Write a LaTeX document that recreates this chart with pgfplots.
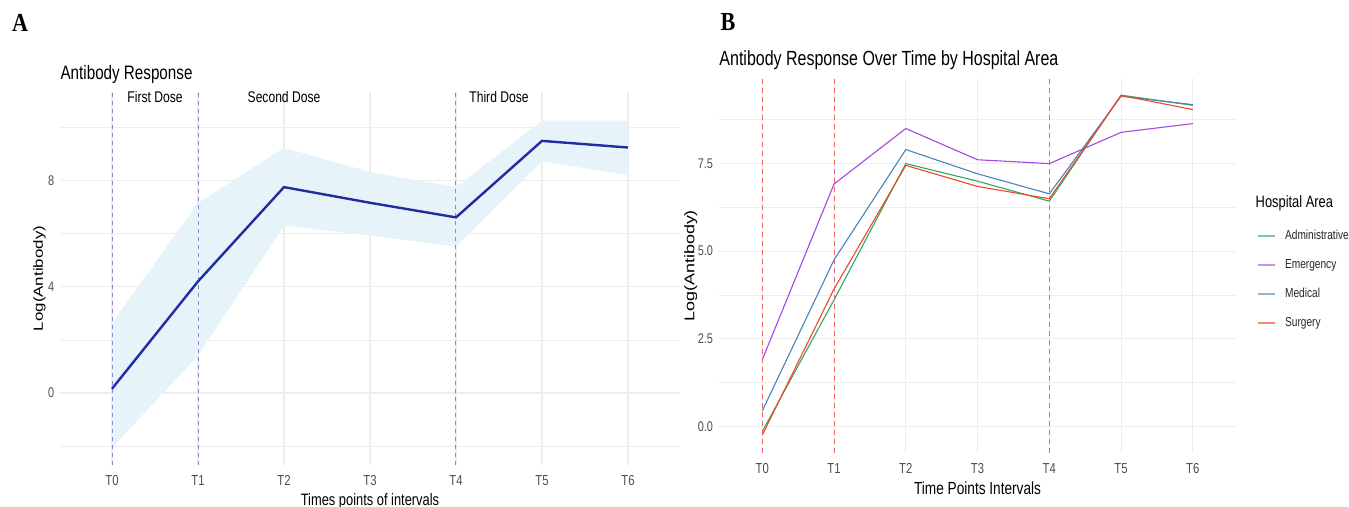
\documentclass[border=0pt]{standalone}
\usepackage{fontspec}
\setmainfont{Liberation Sans}[FakeStretch=0.78]
\newfontfamily\rotfont{Liberation Sans}[FakeStretch=1.28]
\newfontfamily\serifb{Liberation Serif}[FakeStretch=0.85]
\usepackage{pgfplots}
\pgfplotsset{compat=1.18}

\definecolor{gridc}{HTML}{EDEDED}
\definecolor{ticklab}{HTML}{4D4D4D}
\definecolor{lineA}{HTML}{1F2D9E}
\definecolor{ribbon}{HTML}{E6F3F9}
\definecolor{dashA}{HTML}{8583D8}
\definecolor{dashB}{HTML}{F46464}
\definecolor{admin}{HTML}{2EA862}
\definecolor{emerg}{HTML}{A447E3}
\definecolor{medic}{HTML}{4A82BA}
\definecolor{surg}{HTML}{F2452B}

\pgfplotsset{
  ggmin/.style={
    scale only axis,
    axis line style={draw=none},
    tick style={draw=none},
    major tick length=0pt, minor tick length=0pt,
    xmajorgrids, ymajorgrids, yminorgrids,
    major grid style={gridc, line width=1.1pt},
    minor grid style={gridc, line width=0.7pt},
    xmin=-0.6, xmax=6.6,
    xtick={0,1,2,3,4,5,6},
    xticklabels={T0,T1,T2,T3,T4,T5,T6},
    xticklabel style={anchor=north, inner sep=0pt, yshift=-10pt, text=ticklab, font=\fontsize{14.5}{15}\selectfont},
    yticklabel style={anchor=east, inner sep=0pt, xshift=-6pt, text=ticklab, font=\fontsize{14}{15}\selectfont},
    every axis x label/.style={at={(axis description cs:0.5,0)}, anchor=north, inner sep=0pt, yshift=-28pt},
    every axis title/.style={at={(axis description cs:0,1)}, anchor=base west, inner sep=0pt, yshift=12pt},
  }
}

\begin{document}
\begin{tikzpicture}
\useasboundingbox (0pt,0pt) rectangle (1349pt,506pt);

% ---------------- Panel A ----------------
\begin{axis}[ggmin,
  at={(60.4pt,41pt)}, anchor=south west,
  width=619.2pt, height=373pt,
  ymin=-2.71, ymax=11.33,
  ytick={0,4,8}, yticklabels={0,4,8},
  minor ytick={-2,2,6,10},
  title={Antibody Response},
  title style={font=\fontsize{19.5}{20}\selectfont},
  xlabel={Times points of intervals},
  xlabel style={font=\fontsize{16.5}{17}\selectfont},
  every axis y label/.style={at={(axis description cs:0,0.5)}, xshift=-21pt, rotate=90, anchor=center, inner sep=0pt, font=\rotfont\fontsize{13.2}{13}\selectfont},
  ylabel={Log(Antibody)},
]
\addplot[fill=ribbon, draw=none] coordinates {
  (0,2.63) (1,7.15) (2,9.23) (3,8.32) (4,7.75) (5,10.25) (6,10.25)
  (6,8.19) (5,8.72) (4,5.51) (3,5.93) (2,6.3) (1,1.4) (0,-2.05)} -- cycle;
\addplot[dashA, line width=1pt, dash pattern=on 4pt off 4pt] coordinates {(0,-2.71) (0,11.33)};
\addplot[dashA, line width=1pt, dash pattern=on 4pt off 4pt] coordinates {(1,-2.71) (1,11.33)};
\addplot[dashA, line width=1pt, dash pattern=on 4pt off 4pt] coordinates {(4,-2.71) (4,11.33)};
\addplot[lineA, line width=2.4pt] coordinates {
  (0,0.16) (1,4.2) (2,7.75) (3,7.16) (4,6.61) (5,9.49) (6,9.24)};
\node[font=\fontsize{15.5}{16}\selectfont, inner sep=0pt] at (axis cs:0.5,11.13) {First Dose};
\node[font=\fontsize{15.5}{16}\selectfont, inner sep=0pt] at (axis cs:2,11.13) {Second Dose};
\node[font=\fontsize{15.5}{16}\selectfont, inner sep=0pt] at (axis cs:4.5,11.13) {Third Dose};
\end{axis}

% ---------------- Panel B ----------------
\begin{axis}[ggmin,
  at={(719.25pt,52.7pt)}, anchor=south west,
  width=516.6pt, height=375pt,
  ymin=-0.76, ymax=9.92,
  ytick={0,2.5,5,7.5}, yticklabels={0.0,2.5,5.0,7.5},
  minor ytick={1.25,3.75,6.25,8.75},
  title={Antibody Response Over Time by Hospital Area},
  title style={font=\fontsize{20.5}{21}\selectfont, yshift=1pt},
  xlabel={Time Points Intervals},
  xlabel style={font=\fontsize{17.5}{18}\selectfont},
  every axis y label/.style={at={(axis description cs:0,0.5)}, xshift=-28.5pt, rotate=90, anchor=center, inner sep=0pt, font=\rotfont\fontsize{14}{14}\selectfont},
  ylabel={Log(Antibody)},
  legend cell align=left,
  legend image code/.code={\draw[#1] (0pt,0pt) -- (17pt,0pt);},
  legend style={at={(1.0415,0.597)}, anchor=north west, draw=none, fill=none,
    inner sep=0pt, row sep=16pt, column sep=9pt,
    font=\fontsize{13}{14}\selectfont, text=black!85,
    nodes={inner sep=0pt, text height=10pt, text depth=3pt}},
]
\addplot[admin, line width=1.1pt, forget plot] coordinates {
  (0,-0.14) (1,3.61) (2,7.49) (3,6.99) (4,6.42) (5,9.44) (6,9.15)};
\addplot[emerg, line width=1.1pt, forget plot] coordinates {
  (0,1.91) (1,6.91) (2,8.49) (3,7.6) (4,7.49) (5,8.38) (6,8.63)};
\addplot[medic, line width=1.1pt, forget plot] coordinates {
  (0,0.45) (1,4.75) (2,7.89) (3,7.2) (4,6.63) (5,9.41) (6,9.17)};
\addplot[surg, line width=1.1pt, forget plot] coordinates {
  (0,-0.24) (1,3.92) (2,7.44) (3,6.84) (4,6.49) (5,9.43) (6,9.03)};
\addplot[dashB, line width=1.1pt, dash pattern=on 5pt off 4pt, forget plot] coordinates {(0,-0.76) (0,9.92)};
\addplot[dashB, line width=1.1pt, dash pattern=on 5pt off 4pt, forget plot] coordinates {(1,-0.76) (1,9.92)};
\addplot[dashB, line width=1.1pt, dash pattern=on 5pt off 4pt, forget plot] coordinates {(4,-0.76) (4,9.92)};
\addlegendimage{admin!60!white, line width=1.6pt}
\addlegendentry{Administrative}
\addlegendimage{emerg!60!white, line width=1.6pt}
\addlegendentry{Emergency}
\addlegendimage{medic!60!white, line width=1.6pt}
\addlegendentry{Medical}
\addlegendimage{surg!65!white, line width=1.6pt}
\addlegendentry{Surgery}
\end{axis}

\node[anchor=base west, inner sep=0pt, font=\fontsize{16.5}{17}\selectfont] at (1255.5pt,298pt) {Hospital Area};
\node[anchor=base west, inner sep=0pt, font=\serifb\bfseries\fontsize{26}{26}\selectfont] at (12pt,474pt) {A};
\node[anchor=base west, inner sep=0pt, font=\serifb\bfseries\fontsize{26}{26}\selectfont] at (720.5pt,475.3pt) {B};
\end{tikzpicture}
\end{document}
